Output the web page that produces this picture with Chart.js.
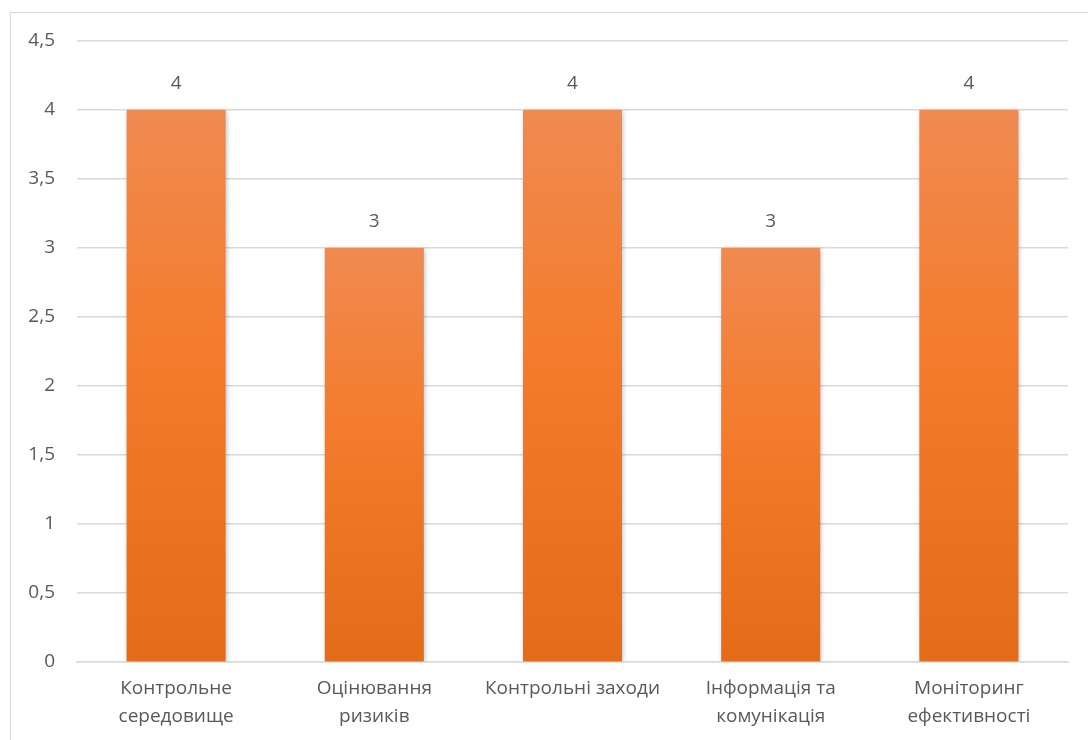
<!DOCTYPE html>
<html>
<head>
<meta charset="utf-8">
<script src="https://cdn.jsdelivr.net/npm/chart.js@4.4.0/dist/chart.umd.min.js"></script>
<style>
html,body{margin:0;padding:0;background:#fff;overflow:hidden;}
#wrap{position:relative;width:1088px;height:740px;}
#frame{position:absolute;left:10px;top:12px;width:1100px;height:760px;border-left:1.5px solid #d9d9d9;border-top:1.5px solid #d9d9d9;box-sizing:border-box;}
canvas{position:absolute;left:0;top:0;}
</style>
</head>
<body>
<div id="wrap">
<div id="frame"></div>
<canvas id="c" width="1088" height="740"></canvas>
</div>
<script>
const categories = [
  ["Контрольне", "середовище"],
  ["Оцінювання", "ризиків"],
  ["Контрольні заходи"],
  ["Інформація та", "комунікація"],
  ["Моніторинг", "ефективності"]
];
const values = [4, 3, 4, 3, 4];
const yTicks = [0, 0.5, 1, 1.5, 2, 2.5, 3, 3.5, 4, 4.5];

const FONT = "'Open Sans', sans-serif";
const TXT = "#595959";

function barGradient(ctx) {
  const chart = ctx.chart;
  const area = chart.chartArea;
  if (!area) return "#F47B2A";
  const ys = chart.scales.y;
  const v = ctx.raw != null ? ctx.raw : 0;
  const top = ys.getPixelForValue(v);
  const bottom = ys.getPixelForValue(0);
  const g = chart.ctx.createLinearGradient(0, top, 0, bottom);
  g.addColorStop(0, "#F08A50");
  g.addColorStop(0.45, "#F47B2B");
  g.addColorStop(1, "#E46B18");
  return g;
}

const shadowPlugin = {
  id: "barShadow",
  beforeDatasetsDraw(chart) {
    const c = chart.ctx;
    c.save();
    c.shadowColor = "rgba(0,0,0,0.28)";
    c.shadowBlur = 5;
    c.shadowOffsetX = 1;
    c.shadowOffsetY = 1;
  },
  afterDatasetsDraw(chart) {
    chart.ctx.restore();
    const c = chart.ctx;
    const meta = chart.getDatasetMeta(0);
    c.save();
    c.font = "19px " + FONT;
    c.fillStyle = TXT;
    c.textAlign = "center";
    c.textBaseline = "middle";
    meta.data.forEach((el, i) => {
      c.fillText(String(values[i]).replace(".", ","), el.x, el.y - 26);
    });
    c.restore();
  }
};

new Chart(document.getElementById("c"), {
  type: "bar",
  data: {
    labels: categories,
    datasets: [{
      data: values,
      backgroundColor: barGradient,
      borderWidth: 0,
      barPercentage: 0.5,
      categoryPercentage: 1.0
    }]
  },
  options: {
    responsive: false,
    animation: false,
    devicePixelRatio: 1,
    layout: { padding: { left: 0, right: 20, top: 41, bottom: 0 } },
    plugins: { legend: { display: false }, tooltip: { enabled: false } },
    scales: {
      x: {
        grid: { display: false, drawTicks: false },
        border: { display: true, color: "#d9d9d9", width: 1.5 },
        ticks: {
          color: TXT,
          font: { family: FONT, size: 19, lineHeight: 1.47 },
          padding: 13,
          maxRotation: 0,
          autoSkip: false
        },
        afterFit(s) { s.height = 78; }
      },
      y: {
        min: 0,
        max: 4.5,
        afterBuildTicks(s) { s.ticks = yTicks.map(v => ({ value: v })); },
        grid: { color: "#d9d9d9", lineWidth: 1.5, drawTicks: false },
        border: { display: false },
        ticks: {
          color: TXT,
          font: { family: FONT, size: 19 },
          padding: 22,
          callback: v => String(v).replace(".", ",")
        },
        afterFit(s) { s.width = 77; }
      }
    }
  },
  plugins: [shadowPlugin]
});
</script>
</body>
</html>
